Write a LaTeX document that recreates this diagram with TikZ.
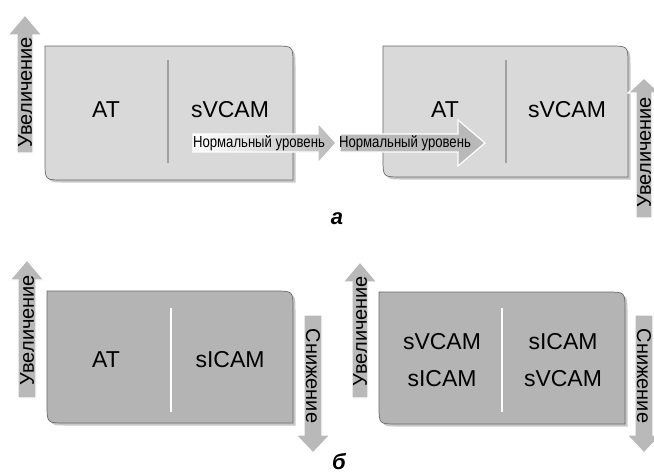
\documentclass[tikz,border=0pt]{standalone}
\usepackage{fontspec}
\setmainfont{Liberation Sans}
\usepackage{graphicx}
\usetikzlibrary{positioning}

\definecolor{boxlight}{HTML}{D9D9D9}
\definecolor{boxdark}{HTML}{B4B4B4}
\definecolor{boxline}{HTML}{6A6A6A}
\definecolor{arrowgray}{HTML}{B9B9B9}
\definecolor{linegray}{HTML}{A0A0A0}

\tikzset{
	box/.style={draw=boxline, line width=0.7pt},
	boxshadow/.style={fill=black, opacity=0.22},
	bigarrow/.style={fill=arrowgray, draw=white, line width=1.2pt},
	boxtext/.style={font=\fontsize{23}{37}\selectfont, align=center},
	arrowtext/.style={font=\fontsize{20}{22}\selectfont, inner sep=0pt},
	levtext/.style={font=\fontsize{16}{18}\selectfont, inner sep=0pt},
	divider/.style={line width=1.8pt},
	caption/.style={font=\fontsize{22}{24}\selectfont\bfseries\itshape, inner sep=0pt}
}

% panel: left, top, right, bottom, fill
\newcommand{\panel}[5]{
	\fill[boxshadow, xshift=2.5pt, yshift=-2.5pt] (#1,#2) -- (#3-18,#2) .. controls (#3,#2) .. (#3,#2+18) -- (#3,#4) -- (#1+18,#4) .. controls (#1,#4) .. (#1,#4-18) -- cycle;
	\draw[box, fill=#5] (#1,#2) -- (#3-18,#2) .. controls (#3,#2) .. (#3,#2+18) -- (#3,#4) -- (#1+18,#4) .. controls (#1,#4) .. (#1,#4-18) -- cycle;
}
% vertical block arrow: x, start, head base, tip, shaft half, head half
\newcommand{\varrow}[7][]{
	\draw[bigarrow, #1] (#2-#6,#3) -- (#2-#6,#4) -- (#2-#7,#4) -- (#2,#5) -- (#2+#7,#4) -- (#2+#6,#4) -- (#2+#6,#3) -- cycle;
}
% horizontal block arrow: y, start, head base, tip, shaft half, head half
\newcommand{\harrow}[7][]{
	\draw[bigarrow, #1] (#3,#2-#6) -- (#4,#2-#6) -- (#4,#2-#7) -- (#5,#2) -- (#4,#2+#7) -- (#4,#2+#6) -- (#3,#2+#6) -- cycle;
}

\begin{document}
\begin{tikzpicture}[x=1pt, y=-1pt]
	\clip (0,0) rectangle (654,475);
	\fill[white] (0,0) rectangle (654,475);

	\panel{45}{46}{293}{180}{boxlight}
	\panel{383}{46}{628}{177}{boxlight}
	\panel{47}{291}{293}{423}{boxdark}
	\panel{379}{292}{625}{424}{boxdark}

	\draw[divider, linegray] (168,60) -- (168,163);
	\draw[divider, linegray] (506,60) -- (506,163);
	\draw[divider, white] (171,308) -- (171,412);
	\draw[divider, white] (502,308) -- (502,412);

	\node[boxtext] (atA) at (106,110) {AT};
	\node[boxtext] (svA) at (230,110) {sVCAM};
	\node[boxtext] (atB) at (445,110) {AT};
	\node[boxtext] (svB) at (567,110) {sVCAM};
	\node[boxtext] (atC) at (106,360) {AT};
	\node[boxtext] (siC) at (230,360) {sICAM};
	\node[boxtext] (mixD) at (442,360) {sVCAM\\sICAM};
	\node[boxtext] (mixE) at (563,360) {sICAM\\sVCAM};

	\varrow{25}{153}{35}{15}{8}{17}
	\varrow{644}{218}{93}{78}{8}{16}
	\varrow{27}{398}{280}{260}{9}{17}
	\varrow{313}{315}{435}{453}{9}{17}
	\varrow{360}{398}{282}{262}{8}{17}
	\varrow{644}{315}{435}{453}{9}{17}
	\harrow[left color=white, right color=arrowgray]{143}{193}{318}{336}{9}{20}
	\harrow{143}{340}{458}{485}{9}{23}

	\node[arrowtext, rotate=90] (upA) at (25,92) {Увеличение};
	\node[arrowtext, rotate=90] (upB) at (644,152) {Увеличение};
	\node[arrowtext, rotate=90] (upC) at (27,330) {Увеличение};
	\node[arrowtext, rotate=90] (upD) at (360,331) {Увеличение};
	\node[arrowtext, rotate=-90] (downC) at (313,376) {Снижение};
	\node[arrowtext, rotate=-90] (downD) at (644,376) {Снижение};
	\node[levtext] (normA) at (259,143) {\scalebox{0.82}[1]{Нормальный уровень}};
	\node[levtext] (normB) at (405,143) {\scalebox{0.82}[1]{Нормальный уровень}};

	\node[caption] (capA) at (337,219) {а};
	\node[caption] (capB) at (339,462) {б};
\end{tikzpicture}
\end{document}
